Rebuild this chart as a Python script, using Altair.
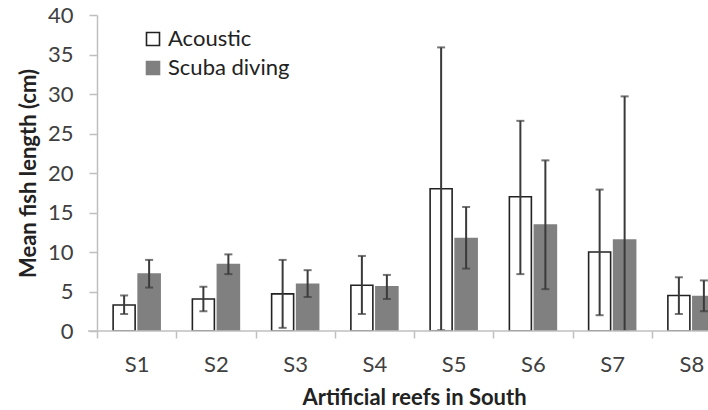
import altair as alt
import pandas as pd

# Mean fish length per artificial reef, acoustic survey vs scuba diving
sites = ["S1", "S2", "S3", "S4", "S5", "S6", "S7", "S8"]
acoustic_mean = [3.3, 4.05, 4.7, 5.8, 18.0, 17.0, 10.0, 4.5]
acoustic_hi = [4.5, 5.6, 9.0, 9.5, 35.9, 26.6, 17.9, 6.8]
acoustic_lo = [2.15, 2.5, 0.4, 2.15, 0.1, 7.2, 2.0, 2.15]
scuba_mean = [7.2, 8.4, 5.9, 5.6, 11.7, 13.4, 11.5, 4.35]
scuba_hi = [9.0, 9.7, 7.7, 7.1, 15.7, 21.6, 29.7, 6.4]
scuba_lo = [5.5, 7.2, 4.3, 4.05, 7.9, 5.3, 0.0, 2.5]
methods = ["Acoustic", "Scuba diving"]
y_ticks = [0, 5, 10, 15, 20, 25, 30, 35, 40]

rows = []
for i, s in enumerate(sites):
    rows.append({"site": s, "method": methods[0], "mean": acoustic_mean[i],
                 "lo": acoustic_lo[i], "hi": acoustic_hi[i]})
    rows.append({"site": s, "method": methods[1], "mean": scuba_mean[i],
                 "lo": scuba_lo[i], "hi": scuba_hi[i]})
df = pd.DataFrame(rows)

FONT = "Lato"
TEXT = "#404040"
AXIS = "#bfbfbf"
FS = 22

x_title = "Artificial reefs in South"
y_title = "Mean fish length (cm)"

x_axis = alt.Axis(
    labelAngle=0,
    tickBand="extent",
    domain=False,
    tickColor=AXIS,
    tickWidth=1.5,
    tickSize=7,
    labelPadding=16,
    labelFontSize=FS,
    labelColor=TEXT,
    labelFont=FONT,
    titleFont=FONT,
    titleFontSize=FS,
    titleFontWeight="bold",
    titleColor="#222222",
    titlePadding=12,
)
y_axis = alt.Axis(
    values=y_ticks,
    labelOverlap=False,
    grid=False,
    domainColor=AXIS,
    domainWidth=1.5,
    tickColor=AXIS,
    tickWidth=1.5,
    tickSize=8,
    labelPadding=16,
    labelFontSize=FS,
    labelColor=TEXT,
    labelFont=FONT,
    titleFont=FONT,
    titleFontSize=FS,
    titleFontWeight="bold",
    titleColor="#222222",
    titlePadding=7,
)
x_scale = alt.Scale(range=[0, 634], paddingInner=0, paddingOuter=0)
y_scale = alt.Scale(domain=[0, 40], nice=False)


def x_enc():
    return alt.X("site:N", sort=sites, scale=x_scale, axis=x_axis, title=x_title)


def y_enc(field):
    return alt.Y(field, scale=y_scale, axis=y_axis, title=y_title)


xoff = alt.XOffset(
    "method:N",
    sort=methods,
    scale=alt.Scale(paddingInner=0.12, paddingOuter=0.645),
)

bars = alt.Chart(df).mark_bar(strokeWidth=1.6, clip=True).encode(
    x=x_enc(),
    xOffset=xoff,
    y=y_enc("mean:Q"),
    fill=alt.Fill(
        "method:N",
        scale=alt.Scale(domain=methods, range=["#ffffff", "#808080"]),
        legend=alt.Legend(
            title=None,
            orient="none",
            legendX=45,
            legendY=13,
            symbolType="square",
            symbolSize=169,
            symbolStrokeWidth=1.6,
            labelFont=FONT,
            labelFontSize=FS,
            labelColor="#222222",
            labelOffset=4,
            rowPadding=7,
        ),
    ),
    stroke=alt.Stroke(
        "method:N",
        scale=alt.Scale(domain=methods, range=["#222222", "#808080"]),
        legend=None,
    ),
)

err = alt.Chart(df).mark_rule(color="#3a3a3a", strokeWidth=2, clip=True).encode(
    x=x_enc(),
    xOffset=xoff,
    y=y_enc("lo:Q"),
    y2="hi:Q",
)
cap_hi = alt.Chart(df).mark_tick(color="#3a3a3a", thickness=2, size=8, clip=True).encode(
    x=x_enc(),
    xOffset=xoff,
    y=y_enc("hi:Q"),
)
cap_lo = alt.Chart(df).mark_tick(color="#3a3a3a", thickness=2, size=8, clip=True).encode(
    x=x_enc(),
    xOffset=xoff,
    y=y_enc("lo:Q"),
)

# x-axis baseline, extended slightly left of the y axis
baseline = alt.Chart(pd.DataFrame({"v": [0]})).mark_rule(
    color=AXIS, strokeWidth=1.5
).encode(
    y=y_enc("v:Q"),
    x=alt.value(-9),
    x2=alt.value(640),
)

chart = (
    alt.layer(bars, err, cap_hi, cap_lo, baseline)
    .properties(
        width=611,
        height=316,
        background="white",
        autosize=alt.AutoSizeParams(type="none"),
        padding={"left": 97, "top": 15, "right": 0, "bottom": 79},
    )
    .configure_view(stroke=None)
)

chart.save("out.html", embed_options={"renderer": "svg", "actions": False})
